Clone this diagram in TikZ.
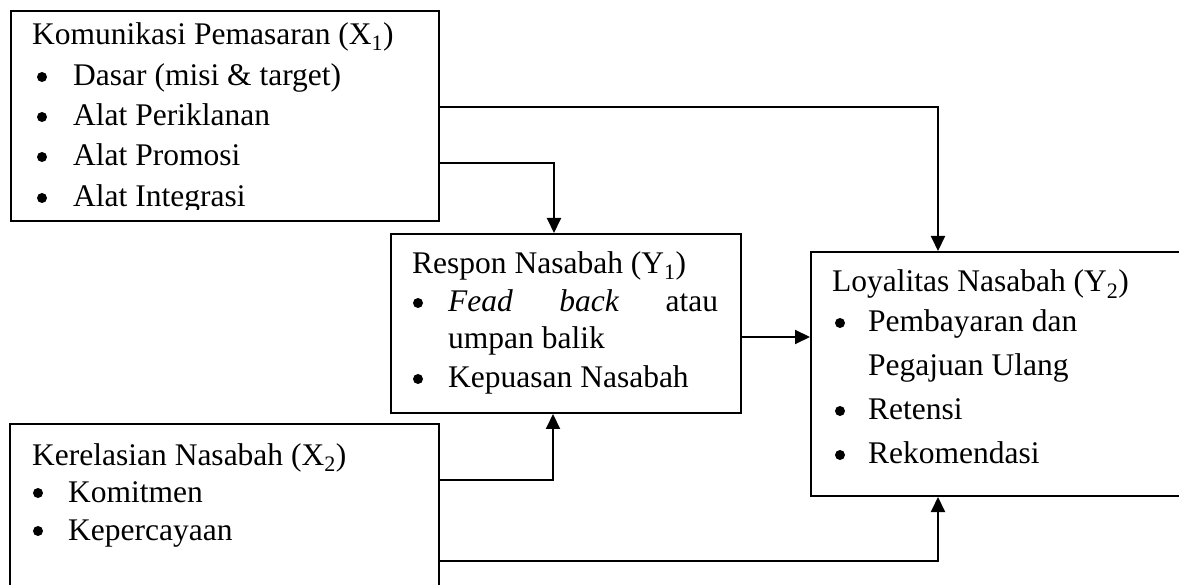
\documentclass[tikz,border=0pt]{standalone}
\usepackage{fontspec}
\setmainfont{Liberation Serif}
\usetikzlibrary{arrows.meta}
\tikzset{
  box/.style={draw, line width=2pt, inner sep=0pt, anchor=north west},
  txt/.style={anchor=base west, inner sep=0pt, font=\fontsize{31.5}{37}\selectfont},
  bul/.style={circle, fill, inner sep=0pt, minimum size=10pt},
  arr/.style={line width=2pt, -{Triangle[length=15pt,width=14pt]}}
}
\begin{document}
\begin{tikzpicture}[x=1pt,y=-1pt]
\clip (0,0) rectangle (1179,585);
\fill[white] (0,0) rectangle (1179,585);
% boxes
\node[box, minimum width=428pt, minimum height=210pt] (x1) at (10,10) {};
\node[box, minimum width=350pt, minimum height=179pt] (y1) at (390,233) {};
\node[box, minimum width=400pt, minimum height=244pt] (y2) at (810,251) {};
\node[box, minimum width=429pt, minimum height=200pt] (x2) at (9,423) {};
% X1 text
\node[txt] (t1) at (32,45) {Komunikasi Pemasaran (X\textsubscript{1})};
\node[bul] (b11) at (42,77) {};
\node[txt] (t11) at (73,86) {Dasar (misi \& target)};
\node[bul] (b12) at (42,117) {};
\node[txt] (t12) at (73,126) {Alat Periklanan};
\node[bul] (b13) at (42,157) {};
\node[txt] (t13) at (73,166) {Alat Promosi};
\node[bul] (b14) at (42,198) {};
\begin{scope}
\clip (10,10) rectangle (438,210);
\node[txt] (t14) at (73,207) {Alat Integrasi};
\end{scope}
% Y1 text
\node[txt] (t2) at (412,274) {Respon Nasabah (Y\textsubscript{1})};
\node[bul] (b21) at (418,303) {};
\node[txt] (t21) at (448,312) {\hbox to 270pt{\textit{Fead}\hfill\textit{back}\hfill atau}};
\node[txt] (t22) at (448,349) {umpan balik};
\node[bul] (b22) at (418,379) {};
\node[txt] (t23) at (448,388) {Kepuasan Nasabah};
% Y2 text
\node[txt] (t3) at (832,292) {Loyalitas Nasabah (Y\textsubscript{2})};
\node[bul] (b31) at (840,323) {};
\node[txt] (t31) at (868,332) {Pembayaran dan};
\node[txt] (t32) at (868,376) {Pegajuan Ulang};
\node[bul] (b32) at (840,411) {};
\node[txt] (t33) at (868,420) {Retensi};
\node[bul] (b33) at (840,455) {};
\node[txt] (t34) at (868,464) {Rekomendasi};
% X2 text
\node[txt] (t4) at (32,465) {Kerelasian Nasabah (X\textsubscript{2})};
\node[bul] (b41) at (38,493) {};
\node[txt] (t41) at (68,502) {Komitmen};
\node[bul] (b42) at (38,531) {};
\node[txt] (t42) at (68,540) {Kepercayaan};
% connectors
\draw[arr] (x1.east |- 0,107) -| (y2.north -| 938,0);
\draw[arr] (x1.east |- 0,163) -| (y1.north -| 554,0);
\draw[arr] (y1.east |- 0,337) -- (y2.west |- 0,337);
\draw[arr] (x2.east |- 0,480) -| (y1.south -| 553,0);
\draw[arr] (x2.east |- 0,561) -| (y2.south -| 938,0);
\end{tikzpicture}
\end{document}
